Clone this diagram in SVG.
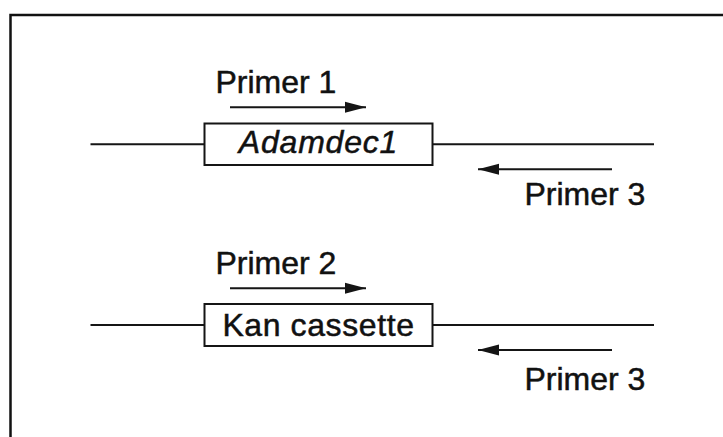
<svg xmlns="http://www.w3.org/2000/svg" width="723" height="437" viewBox="0 0 723 437">
  <style>
    .strand { stroke: #151515; stroke-width: 2; fill: none; }
    .gene { fill: #ffffff; stroke: #151515; stroke-width: 2; }
    .primer { stroke: #151515; stroke-width: 2; fill: none; marker-end: url(#head); }
    .lbl { font-family: "Liberation Sans", Arial, Helvetica, sans-serif; font-size: 32px; fill: #111111; stroke: #111111; stroke-width: 0.5px; }
    .ital { font-style: italic; }
  </style>
  <defs>
    <marker id="head" markerUnits="userSpaceOnUse" markerWidth="22" markerHeight="12" refX="21" refY="6" orient="auto">
      <path d="M0,0.5 L21,6 L0,11.5 Z" fill="#151515"/>
    </marker>
  </defs>

  <rect width="723" height="437" fill="#ffffff"/>
  <!-- outer frame -->
  <path d="M10.5,437 V15 H723" fill="none" stroke="#111111" stroke-width="2.5"/>

  <g id="connectors">
    <!-- wild-type locus -->
    <line class="strand" x1="90.5" y1="144.3" x2="204.5" y2="144.3"/>
    <line class="strand" x1="432.5" y1="144.3" x2="654" y2="144.3"/>
    <line class="primer" x1="230" y1="107.3" x2="366" y2="107.3"/>
    <line class="primer" x1="612" y1="169.3" x2="478" y2="169.3"/>
    <!-- targeted locus -->
    <line class="strand" x1="90.5" y1="325" x2="204.5" y2="325"/>
    <line class="strand" x1="432.5" y1="325" x2="654" y2="325"/>
    <line class="primer" x1="230" y1="288.3" x2="366" y2="288.3"/>
    <line class="primer" x1="612" y1="350" x2="478" y2="350"/>
  </g>

  <g id="adamdec1">
    <rect class="gene" x="204.5" y="123.5" width="228" height="41.5"/>
    <text class="lbl ital" x="318.5" y="153.3" text-anchor="middle" font-size="33" letter-spacing="0.8">Adamdec1</text>
  </g>

  <g id="kan-cassette">
    <rect class="gene" x="204.5" y="304" width="228" height="42"/>
    <text class="lbl" x="318.5" y="336" text-anchor="middle" letter-spacing="0.6">Kan cassette</text>
  </g>

  <g id="primer1"><text class="lbl" x="215.5" y="92.5">Primer 1</text></g>
  <g id="primer3a"><text class="lbl" x="524.5" y="205">Primer 3</text></g>
  <g id="primer2"><text class="lbl" x="215.5" y="274">Primer 2</text></g>
  <g id="primer3b"><text class="lbl" x="524.5" y="390">Primer 3</text></g>
</svg>
